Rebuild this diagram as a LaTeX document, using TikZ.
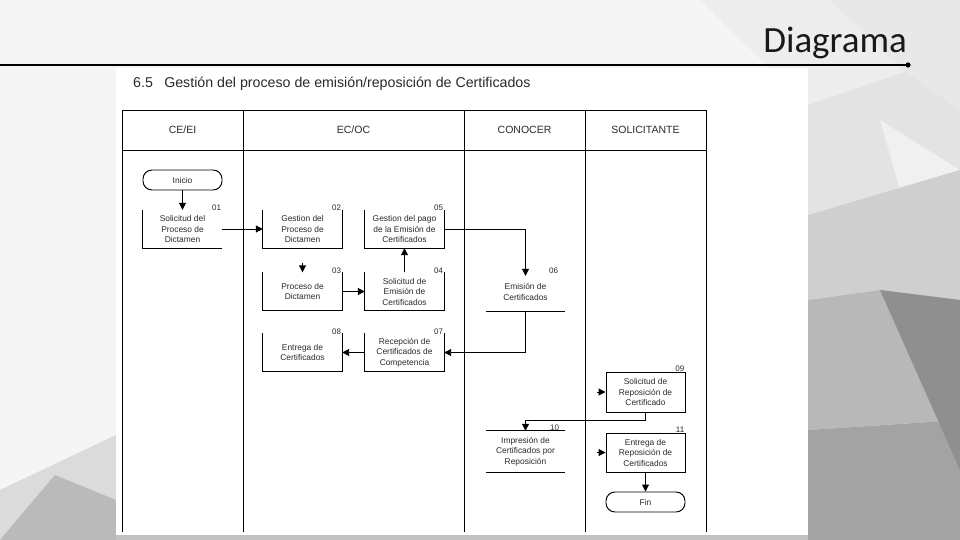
\documentclass[tikz,border=0pt]{standalone}
\usepackage{fontspec}
\setmainfont{Liberation Sans}
\newfontfamily\titlefont{Carlito}
\usetikzlibrary{arrows.meta}
\definecolor{txt}{HTML}{2A2A2A}
\definecolor{numblue}{HTML}{1F3550}
\tikzset{
  arr/.style={-{Triangle[length=7pt,width=7pt]}, line width=0.95pt},
  boxnode/.style={minimum width=79pt, minimum height=38pt, inner sep=0pt, align=center,
    text=txt, font=\fontsize{8.4}{10.5}\selectfont},
  fullbox/.style={boxnode, draw, line width=0.95pt},
  term/.style={draw, line width=0.95pt, rounded corners=9pt, minimum width=79pt, minimum height=20pt,
    inner sep=0pt, text=txt, font=\fontsize{8.4}{9}\selectfont},
  num/.style={font=\fontsize{8}{9}\selectfont, text=txt, inner sep=1pt, anchor=south east},
  head/.style={font=\fontsize{10.5}{12}\selectfont, text=txt},
  lane/.style={line width=0.95pt},
  side/.style={line width=0.95pt}
}
\begin{document}
\begin{tikzpicture}[x=1pt,y=-1pt]
\useasboundingbox (0,0) rectangle (960,540);
% background
\fill[black!4] (0,0) rectangle (960,540);
\fill[black!7] (700,0) -- (830,0) -- (905,72) -- (808,105) -- cycle;
\fill[black!9] (830,0) -- (960,0) -- (960,110) -- (905,72) -- cycle;
\fill[black!11] (808,105) -- (905,72) -- (960,110) -- (960,170) -- (808,215) -- cycle;
\fill[black!6] (880,120) -- (960,170) -- (900,190) -- cycle;
\fill[black!19] (808,215) -- (960,170) -- (960,300) -- (880,290) -- (808,300) -- cycle;
\fill[black!28] (808,300) -- (880,290) -- (960,300) -- (960,420) -- (808,430) -- cycle;
\fill[black!36] (808,430) -- (960,420) -- (960,540) -- (808,540) -- cycle;
\fill[black!44] (880,290) -- (960,300) -- (960,470) -- cycle;
\fill[black!14] (0,490) -- (116,435) -- (116,540) -- (0,540) -- cycle;
\fill[black!27] (0,540) -- (55,475) -- (116,500) -- (116,540) -- cycle;
\fill[black!24] (116,530) -- (808,530) -- (808,540) -- (116,540) -- cycle;
% page
\fill[white] (116,68) rectangle (808,535);
% top title and rule
\node[font=\titlefont\fontsize{37}{42}\selectfont, text=black!90, anchor=base east, inner sep=0pt] (ttl) at (907,53) {Diagrama};
\coordinate (ruleL) at (0,65);
\coordinate (ruleR) at (908,65);
\draw[line width=1.8pt] (ruleL) -- (ruleR);
\fill (ruleR) circle (2.6pt);
% heading
\node[font=\fontsize{14.2}{16}\selectfont, text=txt, anchor=west, inner sep=0pt] (hd) at (133,84) {6.5\hspace{0.8em}Gestión del proceso de emisión/reposición de Certificados};
% swimlane table
\draw[lane] (122,532) -- (122,110) -- (706,110) -- (706,532);
\draw[lane] (122,150) -- (706,150);
\foreach \xx in {243,464,585} \draw[lane] (\xx,110) -- (\xx,532);
\node[head] (h1) at (182.5,130) {CE/EI};
\node[head] (h2) at (353.5,130) {EC/OC};
\node[head] (h3) at (524.5,130) {CONOCER};
\node[head] (h4) at (645.5,130) {SOLICITANTE};
% nodes
\node[term] (inicio) at (182.5,180) {Inicio};
\node[boxnode] (b01) at (182.5,229) {Solicitud del\\Proceso de\\Dictamen};
\node[boxnode] (b02) at (302.5,229) {Gestion del\\Proceso de\\Dictamen};
\node[boxnode] (b05) at (404.5,229) {Gestion del pago\\de la Emisión de\\Certificados};
\node[boxnode] (b03) at (302.5,291.5) {Proceso de\\Dictamen};
\node[boxnode] (b04) at (404.5,291.5) {Solicitud de\\Emisión de\\Certificados};
\node[boxnode] (b06) at (525.5,292) {Emisión de\\Certificados};
\node[boxnode] (b08) at (302.5,352.5) {Entrega de\\Certificados};
\node[boxnode] (b07) at (404.5,352.5) {Recepción de\\Certificados de\\Competencia};
\node[fullbox, minimum height=40pt] (b09) at (645.5,392) {Solicitud de\\Reposición de\\Certificado};
\node[boxnode, minimum height=41pt] (b10) at (525.5,451.5) {Impresión de\\Certificados por\\Reposición};
\node[fullbox, minimum height=39pt] (b11) at (645.5,452.5) {Entrega de\\Reposición de\\Certificados};
\node[term] (fin) at (645.5,502) {Fin};
% open boxes
\draw[side] (b01.north west) -- (b01.south west) -- (b01.south east);
\foreach \n in {b02,b05,b03,b04,b08,b07}
  \draw[side] (\n.north west) -- (\n.south west) -- (\n.south east) -- (\n.north east);
\draw[side] (b06.south west) -- (b06.south east);
\draw[side] (b10.north west) -- (b10.north east);
\draw[side] (b10.south west) -- (b10.south east);
% numbers
\node[num] (n01) at ([yshift=-2pt]b01.north east) {01};
\node[num] (n02) at ([yshift=-2pt]b02.north east) {02};
\node[num] (n05) at ([yshift=-2pt]b05.north east) {05};
\node[num] (n03) at ([yshift=-2pt]b03.north east) {03};
\node[num] (n04) at ([yshift=-2pt]b04.north east) {04};
\node[num] (n06) at ([xshift=-6pt,yshift=-2pt]b06.north east) {06};
\node[num] (n08) at ([yshift=-2pt]b08.north east) {08};
\node[num] (n07) at ([yshift=-2pt]b07.north east) {07};
\node[num] (n09) at ([yshift=-1pt]b09.north east) {09};
\node[num, text=numblue] (n10) at ([xshift=-5pt,yshift=-1pt]b10.north east) {10};
\node[num] (n11) at ([yshift=-1pt]b11.north east) {11};
% connectors
\draw[arr] (inicio.south) -- (b01.north);
\draw[arr] (b01.east) -- (b02.west);
\draw[arr, shorten <=15pt] (b02.south) -- (b03.north);
\draw[arr] (b03.east) -- (b04.west);
\draw[arr] (b04.north) -- (b05.south);
\draw[arr] (b05.east) -| ([yshift=-3pt]b06.north);
\draw[arr] (b06.south) |- (b07.east);
\draw[arr] (b07.west) -- (b08.east);
\coordinate (s09) at (597,392);
\coordinate (s11) at (597,452.5);
\draw[arr] (s09) -- (b09.west);
\draw[arr] (s11) -- (b11.west);
\draw[arr] (b09.south) -- ++(0,8) -| (b10.north);
\draw[arr] (b11.south) -- (fin.north);
\end{tikzpicture}
\end{document}
